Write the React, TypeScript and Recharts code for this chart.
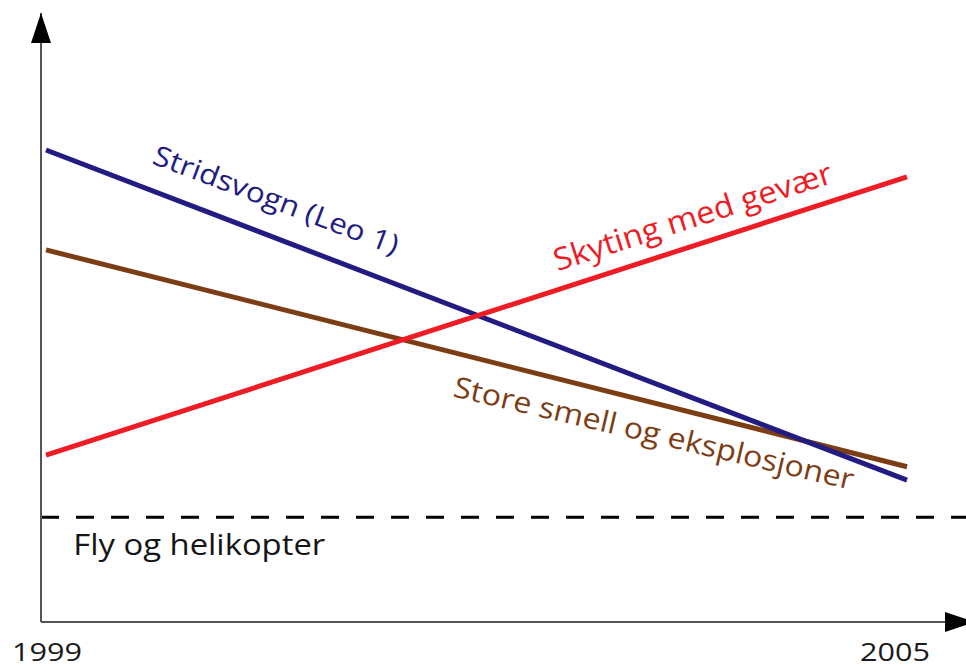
import React from 'react';
import { LineChart, Line, XAxis, YAxis, ReferenceLine, ReferenceDot } from 'recharts';

// ---- data ----
const years = [1999, 2005];
const stridsvogn = [77.5, 23.3];
const storeSmell = [61.1, 25.5];
const skyting = [27.4, 73.1];
const flyOgHelikopter = 17.2;
const xTicks = [1999, 2005];

const BLUE = '#221c82';
const BROWN = '#7d3d14';
const RED = '#ee1c25';
const AXIS = '#555555';

const data = years.map((year, i) => ({
  year,
  stridsvogn: stridsvogn[i],
  storeSmell: storeSmell[i],
  skyting: skyting[i],
}));

const seriesLabels = [
  { text: 'Stridsvogn (Leo 1)', x: 2000.58, y: 67.8, angle: 20.7, color: BLUE, len: 260, size: 28, anchor: 'middle' },
  { text: 'Skyting med gevær', x: 2003.53, y: 64.9, angle: -17.8, color: RED, len: 291, size: 31, anchor: 'middle' },
  { text: 'Store smell og eksplosjoner', x: 2003.22, y: 29.4, angle: 13.2, color: BROWN, len: 410, size: 29, anchor: 'middle' },
  { text: 'Fly og helikopter', x: 1999.19, y: 11.0, angle: 0, color: '#151515', len: 252, size: 30, anchor: 'start' },
];

const FONT = '"Open Sans", "Noto Sans", sans-serif';

const XTick = (props: any) => {
  const { x, y, payload } = props;
  const dx = payload.value === 2005 ? -12 : 1;
  return (
    <text x={x + dx} y={y + 31} textAnchor="middle" fontFamily={FONT} fontSize={26} fill="#1a1a1a"
      textLength={70} lengthAdjust="spacingAndGlyphs">
      {payload.value}
    </text>
  );
};

export default function App() {
  return (
    <div style={{ position: 'absolute', left: 0, top: 0, width: 966, height: 671, background: '#fff' }}>
      <LineChart width={966} height={671} data={data} margin={{ top: 13, right: 0, bottom: 0, left: 0 }}>
        <defs>
          <marker id="arrowUp" viewBox="0 0 30 20" refX="30" refY="10" markerWidth="30" markerHeight="20"
            markerUnits="userSpaceOnUse" orient="auto-start-reverse">
            <path d="M0,0 L30,10 L0,20 Z" fill="#000" />
          </marker>
          <marker id="arrowRight" viewBox="0 0 30 20" refX="21" refY="10" markerWidth="30" markerHeight="20"
            markerUnits="userSpaceOnUse" orient="auto">
            <path d="M0,0 L30,10 L0,20 Z" fill="#000" />
          </marker>
        </defs>
        <XAxis
          dataKey="year"
          type="number"
          domain={[1999, 2005]}
          ticks={xTicks}
          padding={{ left: 5, right: 59 }}
          height={49}
          tickLine={false}
          tick={<XTick />}
          axisLine={{ stroke: AXIS, strokeWidth: 2, markerEnd: 'url(#arrowRight)' }}
        />
        <YAxis
          type="number"
          domain={[0, 100]}
          width={41}
          tick={false}
          tickLine={false}
          axisLine={{ stroke: AXIS, strokeWidth: 2, markerStart: 'url(#arrowUp)' }}
        />
        <ReferenceLine y={flyOgHelikopter} stroke="#000" strokeWidth={3} strokeDasharray="18 17" />
        <Line dataKey="storeSmell" stroke={BROWN} strokeWidth={5} dot={false} isAnimationActive={false} />
        <Line dataKey="stridsvogn" stroke={BLUE} strokeWidth={5} dot={false} isAnimationActive={false} />
        <Line dataKey="skyting" stroke={RED} strokeWidth={5} dot={false} isAnimationActive={false} />
        {seriesLabels.map((l) => (
          <ReferenceDot
            key={l.text}
            x={l.x}
            y={l.y}
            r={0}
            shape={(p: any) => (
              <text
                x={p.cx}
                y={p.cy}
                transform={`rotate(${l.angle} ${p.cx} ${p.cy})`}
                textAnchor={l.anchor as any}
                fontFamily={FONT}
                fontSize={l.size}
                fill={l.color}
                textLength={l.len}
                lengthAdjust="spacingAndGlyphs"
              >
                {l.text}
              </text>
            )}
          />
        ))}
      </LineChart>
    </div>
  );
}
